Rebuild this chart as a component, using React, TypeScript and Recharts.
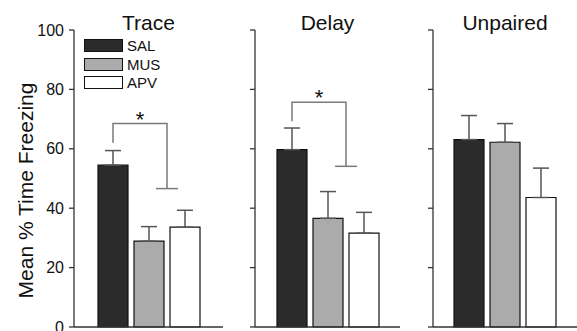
import { BarChart, Bar, XAxis, YAxis, ErrorBar, Legend } from "recharts";

const panels = ["Trace", "Delay", "Unpaired"];
const seriesNames = ["SAL", "MUS", "APV"];
const seriesFills = ["#2b2b2b", "#ababab", "#ffffff"];

const salMeans = [54.5, 59.7, 63.1];
const salErrs = [4.9, 7.3, 8.1];
const musMeans = [28.9, 36.6, 62.2];
const musErrs = [4.9, 9.0, 6.3];
const apvMeans = [33.6, 31.6, 43.6];
const apvErrs = [5.7, 7.0, 9.9];

// significance brackets (null = none)
const bracketTops = [68.5, 75.7, null];
const bracketLeftEnds = [62, 69.3, null];
const bracketRightEnds = [46.6, 54.1, null];

const yTicks = [0, 20, 40, 60, 80, 100];

const FONT = "'Liberation Sans', Arial, Helvetica, sans-serif";
const AXIS = "#333";
const ERR = "#555";
const BRACKET = "#7a7a7a";
const BAR_SIZE = 30;
const BAR_GAP = 6;

const boxes = [
  { left: 0, width: 223, axisWidth: 74 },
  { left: 225, width: 175, axisWidth: 30 },
  { left: 403, width: 174, axisWidth: 30 },
];

function renderLegend() {
  return (
    <div style={{ display: "flex", flexDirection: "column", gap: 5 }}>
      {seriesNames.map((name, k) => (
        <div key={name} style={{ display: "flex", alignItems: "center", height: 13.5 }}>
          <span
            style={{
              display: "inline-block",
              width: 37,
              height: 11,
              background: seriesFills[k],
              border: "1px solid #111",
            }}
          />
          <span style={{ marginLeft: 4, fontSize: 15, color: "#111", lineHeight: "13px" }}>{name}</span>
        </div>
      ))}
    </div>
  );
}

function bracketLabel(index: number) {
  return (props: any) => {
    const top = bracketTops[index];
    if (top == null) return null;
    const vb = props.viewBox ?? props;
    const { x, y, width, height } = vb;
    const mean = salMeans[index];
    const py = (v: number) => y + height - (height * v) / mean;
    const lx = x + width / 2;
    const rx = x + 2 * width + 1.5 * BAR_GAP;
    const ty = py(top);
    const ry = py(bracketRightEnds[index] as number);
    return (
      <g>
        <polyline
          points={`${lx},${py(bracketLeftEnds[index] as number)} ${lx},${ty} ${rx},${ty} ${rx},${ry}`}
          fill="none"
          stroke={BRACKET}
          strokeWidth={1.5}
        />
        <line x1={rx - 11} x2={rx + 11} y1={ry} y2={ry} stroke={BRACKET} strokeWidth={1.5} />
        <text x={(lx + rx) / 2} y={ty + 3} textAnchor="middle" fontSize={22} fill="#111" fontFamily={FONT}>
          *
        </text>
      </g>
    );
  };
}

const yLabel = (props: any) => {
  const vb = props.viewBox;
  const cx = 33;
  const cy = vb.y + vb.height / 2 + 12;
  return (
    <text
      x={cx}
      y={cy}
      transform={`rotate(-90 ${cx} ${cy})`}
      textAnchor="middle"
      fontSize={21}
      fill="#111"
      fontFamily={FONT}
    >
      Mean % Time Freezing
    </text>
  );
};

const emptyTick = () => <g />;

function Panel({ index }: { index: number }) {
  const box = boxes[index];
  const means = [salMeans, musMeans, apvMeans];
  const errs = [salErrs, musErrs, apvErrs];
  const row: any = { group: panels[index] };
  seriesNames.forEach((name, k) => {
    row[name] = means[k][index];
    row[name + "err"] = [0, errs[k][index]];
  });
  const data = [row];
  const plotW = box.width - box.axisWidth;

  return (
    <div style={{ position: "absolute", left: box.left, top: 0, width: box.width, height: 331 }}>
      <BarChart
        width={box.width}
        height={331}
        data={data}
        margin={{ top: 30, right: 0, bottom: 3, left: 0 }}
        barSize={BAR_SIZE}
        barGap={BAR_GAP}
      >
        <XAxis
          dataKey="group"
          tick={emptyTick}
          tickLine={false}
          height={1}
          axisLine={{ stroke: AXIS, strokeWidth: 1.3 }}
        />
        <YAxis
          domain={[0, 100]}
          ticks={yTicks}
          interval={0}
          width={box.axisWidth}
          tickSize={5}
          tickMargin={5}
          axisLine={{ stroke: AXIS, strokeWidth: 1.3 }}
          tickLine={{ stroke: AXIS, strokeWidth: 1.3 }}
          tick={index === 0 ? { fontSize: 16, fill: "#111", fontFamily: FONT } : emptyTick}
          label={index === 0 ? yLabel : undefined}
        />
        {seriesNames.map((name, k) => (
          <Bar
            key={name}
            dataKey={name}
            name={name}
            fill={seriesFills[k]}
            stroke="#111"
            strokeWidth={1.2}
            isAnimationActive={false}
            label={k === 0 ? bracketLabel(index) : false}
          >
            <ErrorBar
              dataKey={name + "err"}
              width={8}
              stroke={ERR}
              strokeWidth={1.5}
              direction="y"
              isAnimationActive={false}
            />
          </Bar>
        ))}
        {index === 0 && (
          <Legend
            content={renderLegend}
            layout="vertical"
            align="center"
            verticalAlign="middle"
            wrapperStyle={{ left: 84, top: 39, width: "auto", height: "auto" }}
          />
        )}
      </BarChart>
      <div
        style={{
          position: "absolute",
          left: box.axisWidth,
          width: plotW,
          top: 13,
          textAlign: "center",
          fontSize: 21,
          lineHeight: "20px",
          color: "#111",
          fontFamily: FONT,
        }}
      >
        {panels[index]}
      </div>
    </div>
  );
}

export default function App() {
  return (
    <div
      style={{
        position: "absolute",
        left: 0,
        top: 0,
        width: 577,
        height: 331,
        overflow: "hidden",
        background: "#fff",
        fontFamily: FONT,
      }}
    >
      {panels.map((p, i) => (
        <Panel key={p} index={i} />
      ))}
    </div>
  );
}
